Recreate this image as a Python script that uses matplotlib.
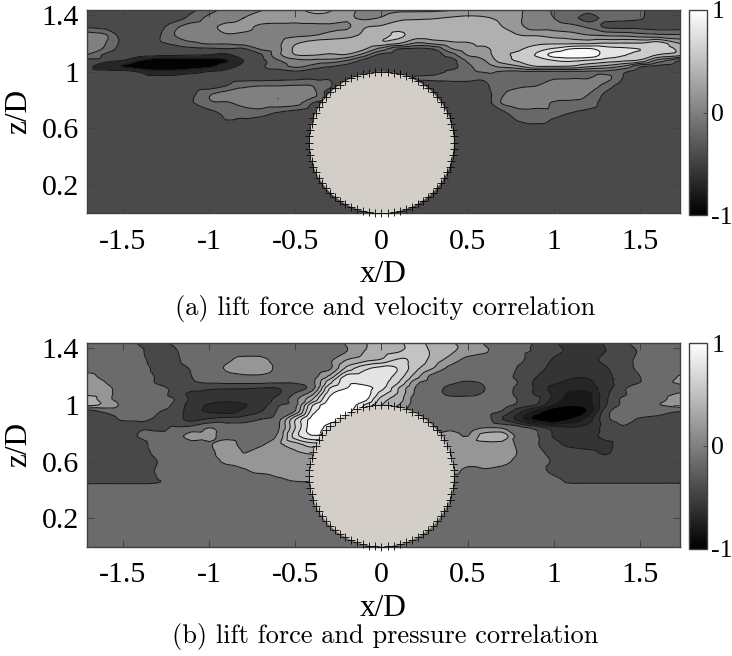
import numpy as np
import matplotlib
matplotlib.use("Agg")
import matplotlib.pyplot as plt
import matplotlib.tri as mtri
from matplotlib.patches import Ellipse
from matplotlib.cm import ScalarMappable
from matplotlib.colors import Normalize

W, H = 732, 656
SERIF = ["Liberation Serif", "DejaVu Serif"]

x_grid = [-1.71, -1.6, -1.5, -1.4, -1.3, -1.2, -1.1, -1.0, -0.9, -0.8, -0.7, -0.6, -0.5, -0.4, -0.3, -0.2, -0.1, 0.0,
          0.1, 0.2, 0.3, 0.4, 0.5, 0.6, 0.7, 0.8, 0.9, 1.0, 1.1, 1.2, 1.3, 1.4, 1.5, 1.6, 1.74]

# values are contour-class positions (class boundaries at .5)
z_lift_velocity = [1.44, 1.38, 1.32, 1.26, 1.2, 1.16, 1.12, 1.08, 1.04, 1.0, 0.96, 0.9, 0.84, 0.78, 0.72, 0.66, 0.6, 0.54, 0.48, 0.4, 0.3, 0.2, 0.1, 0.0]
lift_velocity = [
 [3,3,3,3,3,3,3.3,4,4.8,5,5.4,5.8,6.3,6.7,6.6,5.9,5.2,5.0,5.2,5.2,5.2,5.35,5.8,5.9,6.0,5.6,5,4.4,4.2,4,4,4,3.7,3,3],
 [3,3,3,3,3,3,3.8,4.8,5,5.5,6,6,6,6.2,6.2,5.7,5.3,5.6,6.2,6.3,6.4,6.6,6.7,6.6,6.2,5.6,5,4.5,3.9,3,3.8,3.8,3.6,3,3],
 [3.3,3.1,3,3,3,4.2,5,5.2,5.8,5.8,5.3,5.2,5.2,5.2,5.3,5.3,6.4,6.6,7,7.2,7.2,7.2,7.2,7.2,6.5,5.7,5,5,4.8,4.3,3.3,3.2,3.2,3,3],
 [5,4.6,3,3,3.3,4.5,5,5,5.4,5.3,5.1,5.1,5.3,5.4,5.8,6.1,6.7,7.1,7.7,7.1,7.2,7.2,7.2,7.2,7.1,6.5,6.4,6.1,5.9,5.5,5.3,5.2,4.9,4.7,4.6],
 [5,4.5,3.2,3,3.3,3.7,4.3,4.6,4.6,4.8,5.1,5.3,6.4,7,7.1,7.2,7.3,7.2,6.5,5.3,5.7,6.2,6.4,6.8,7.2,7.3,7.3,7.4,7.4,7.4,7.6,7.6,7.6,8.1,6.4],
 [5,4.3,3,3,3,3,3.2,3.3,3.4,3.3,4.6,5.2,6.7,7.2,7.2,7.1,6.6,5,3.4,3.2,3.5,5.3,6.1,6.2,7.3,7.4,8.1,8.7,9.6,9.7,9,8.7,8.5,8.2,7.2],
 [4.5,3.3,3,3.1,3,2.9,2.7,2.5,2.3,3.2,3.4,5.2,6.5,6.6,6.3,6.4,5,3.2,3,3,3,4,5.6,6,7.3,7.7,8.6,10,10.3,10.2,9.1,8.6,8.1,7.5,6.8],
 [3.2,3,2.5,0.5,-1,-1,-1,-0.5,0.3,2.5,3.2,4.4,5.2,5.3,5.2,4.5,3.2,3,3,3,3,3,4.7,5.5,7,7.7,8,8.5,8.7,8.4,8,7.7,7.3,5.2,3.4],
 [3,1.5,0.3,-1,-1,-1,-0.8,0,1.5,3,3.4,3.9,4.8,4.2,3.6,3.2,3,3,3,3,3,3,4.3,5,5.8,6.5,7.6,7.6,7.5,6.8,6.3,5.5,3.8,3.3,3],
 [3,3,3.2,2.3,1.2,1.2,2,2.6,3,3,3.3,3.2,3.4,3,3,3,3,3,3,3,3,3.7,4.3,4.6,4.4,4.3,4.3,4.3,4.3,4.3,4.3,3.7,3,3,3],
 [3,3,3,3,3,3,3,3,3,3,3,3.1,3.2,3.3,3.4,3,3,3,3,3.6,3.7,3.9,4,3.8,4.4,4.4,4.4,4.4,4.4,4.4,4.9,3.5,3,3,3],
 [3,3,3,3,3,3,3,3,3.5,4.3,4.5,4.5,4.6,4.5,3.6,3,3,3,3,3,3,3,3,3.3,4.3,4.4,4.5,5,5.2,5.1,4.1,3,3,3,3],
 [3,3,3,3,3,3,3.3,4.4,5,5,5.2,5.4,5.3,4.9,3,3,3,3,3,3,3,3,3,3,4.4,5,5.1,5.2,4.9,4.5,3.3,3,3,3,3],
 [3,3,3,3,3,3,3.4,4.3,4.4,4.8,5.1,5.3,5,3.5,3,3,3,3,3,3,3,3,3,3,4.6,5.2,5,4.4,4.3,4.1,3,3,3,3,3],
 [3,3,3,3,3,3,3,3.3,3.8,4.1,4.2,3.6,3.3,3,3,3,3,3,3,3,3,3,3,3,3.4,4.2,4.2,4.2,3.6,3.3,3,3,3,3,3],
 [3,3,3,3,3,3,3,3,3.5,3.4,3.2,3,3,3,3,3,3,3,3,3,3,3,3,3,3,3.6,3.9,3.4,3,3,3,3,3,3,3],
 [3]*35, [3]*35, [3]*35, [3]*35, [3]*35, [3]*35, [3]*35, [3]*35,
]

z_lift_pressure = [1.44, 1.38, 1.32, 1.26, 1.2, 1.16, 1.12, 1.08, 1.04, 1.0, 0.96, 0.9, 0.84, 0.78, 0.72, 0.66, 0.6, 0.54, 0.48, 0.45, 0.44, 0.42, 0.38, 0.3, 0.2, 0.1, 0.0]
lift_pressure = [
 [5,5,5,4.4,4.3,4.6,5,5,5,5,5,5,5,5,5.2,5.6,6.4,7.2,7.4,7.7,7.2,6.6,6.2,5.4,5,4.8,4.4,3.6,3.4,3.3,3.6,4.3,4.9,5,5],
 [5,5,5,4.6,4.2,4.4,5,5,5,5,5,5,5,5,5.2,5.5,6.5,7,7.4,8.1,7.3,6.7,6,5.6,5,4.6,4.4,3.7,3.4,3.3,3.5,4,4.6,5,5],
 [5,5,5,4.7,4.2,4.3,5,5,5.3,5.8,5.8,5.1,5.1,5.1,5.3,6.5,7.1,7.6,8.6,8.2,7.1,6.1,5.2,5,5,4.6,4.2,3.4,3.3,3.2,3.8,4.2,4.7,5,5],
 [5,5,5,5,4.2,4.1,4.6,5,5.6,6,6,5.3,5.1,5.1,5.3,7.8,9.2,9.8,9.4,7.8,6.5,5.2,5,5,5,4.4,4,3.1,3,3,3.4,4.1,4.7,5,5],
 [5.9,5.2,5,5,4.4,4.1,4.5,5,5.2,5.3,5.3,5,5,5.1,6.8,10,10,10,9,6.9,5.1,5,5,5,4.9,4.2,3.5,3,2.6,2.6,3.2,4,4.5,5,5.6],
 [6,5.5,5,5,4.4,4.1,4.4,4.6,4.7,4.7,4.7,4.6,4.6,5.2,8.2,10.2,10.1,9.9,8.5,5.8,5,4.7,4.4,4.6,5,4.4,3.3,2.7,2.3,2.3,3.2,3.9,4.5,5,5.8],
 [6,5.8,5,5,4.8,4.3,4,3.7,3.6,3.6,3.5,3.5,4,5.1,9.5,10.5,11,9.8,7.5,5.4,5,4.2,4.2,4.5,4.9,4.2,3.3,2.2,2,2,3,4.3,5,5,5],
 [6.2,5.9,5,5,4.9,4.2,3.2,3.1,3.1,3.1,3.1,3.4,4.6,6.2,10.2,11,11.2,9,7.3,5.3,5,4.2,4.2,4.6,4.9,4.2,3.3,2.3,1.2,1.2,3.2,4.3,5.2,5,5.7],
 [7.2,5.9,5,5,4.9,4.5,3.3,3,2.8,2.9,3.1,3.8,5.2,7.5,10.8,11.3,10.9,8,7,5,5,4.9,5,5,5,4.4,3.8,2.1,1.1,1.2,3.3,4.7,5,5,6.4],
 [7,6.2,5.3,5,5,4.3,3,2.4,2.1,2.4,3,4.4,5.2,9.4,11.3,11.3,9.5,7.5,6.5,5,5,5,5,5,4.9,4.2,3.4,1.4,0.6,1,3.4,4.7,5,5.4,6.2],
 [4.3,4.8,5,5,4.6,4.1,3,2.3,2,2.7,3.4,4.6,5.5,10,11,11,9,7,6,5,5,5,5,5,4.5,2.9,1.4,-0.5,-1,0.6,4,5,5,5,4.6],
 [4,4.1,4.6,4.6,4.4,4,3.2,3.6,3.9,4,4.5,5.1,8.4,11,11,10,8,6,5,5,5,5,5,5,3.5,2,0,-1,0.5,2,4.2,4.8,4.4,4.2,4.2],
 [4,4,4,4.4,4.2,4.6,4.8,5.5,5,5,5,5.3,8.5,11,10,9,7,6,5,5,5,5.3,5,5.5,5.4,4.9,4.1,3,2.6,3,3.8,4.4,4,4,4],
 [4,4,4,4.6,5,5,6,5.7,5.2,5,5,5.7,9,10.4,10,8,7,6,6,6,5.8,5.9,5.5,7,7.2,5,4.6,3.4,3,3,3.9,4,4,4,4],
 [4,4,4,4.1,5,5,5,5.4,6,5.2,5.4,6.2,7,8,8,7,6,6,6,6,6,6,6,6.1,6,5.3,4.6,3.8,3.3,3.1,3.2,4,4,4,4],
 [4,4,4,4,4.8,5,5,5.2,6,5.5,6,6.2,6.3,6.6,6,6,6,6,6,6,6,5.6,6,6,6,5.4,4.8,4.2,4,3.8,3.4,4,4,4,4],
 [4,4,4,4,4.5,5,5,5,5.7,5.9,6,6,6,6,6,6,6,6,6,6,6,6,5.9,6,5.8,5.2,4.9,4.4,4.1,4,4,4,4,4,4],
 [4,4,4,4,4.6,5,5,5,5,5.4,5.8,6,6,6,6,6,6,6,6,6,6,6,5.2,5.4,5.2,5,4.9,4.2,4,4,4,4,4,4,4],
 [4,4,4,4,4.5,5,5,5,5,5,5,5.4,5.7,5.8,5.8,5.8,5,5,5,5,5,5,5,5,5,5,5,4.7,4.2,4,4,4,4,4,4],
 [4,4,4,4,4.5,5,5,5,5,5,5,5.1,5.3,5.3,5,5,5,5,5,5,5,5,5,5,5,5,5,4.9,4.4,4.4,4.4,4.4,4.4,4.4,4.4],
 [5]*35, [5]*35, [5]*35, [5]*35, [5]*35, [5]*35, [5]*35,
]

levels_velocity = [-3, 0.5, 2.5, 3.5, 4.5, 5.5, 6.5, 7.5, 8.5, 9.5, 14]
grays_velocity = [3, 38, 74, 104, 128, 152, 176, 204, 229, 250]
levels_pressure = [-3, 0.5, 1.5, 2.5, 3.5, 4.5, 5.5, 6.5, 7.5, 8.5, 9.5, 10.5, 14]
grays_pressure = [0, 25, 38, 52, 72, 107, 150, 175, 195, 210, 228, 255]

x_ticks = [-1.5, -1, -0.5, 0, 0.5, 1, 1.5]
x_tick_labels = ["-1.5", "-1", "-0.5", "0", "0.5", "1", "1.5"]
z_ticks = [0.2, 0.6, 1, 1.4]
z_tick_labels = ["0.2", "0.6", "1", "1.4"]
cbar_ticks = [-1, 0, 1]
cbar_labels = ["-1", "0", "1"]
captions = ["(a) lift force and velocity correlation", "(b) lift force and pressure correlation"]
cylinder_angles = np.arange(0, 360, 5)

FRAME = "#404040"
CYL = "#d3cfc8"
TICK_FS = 21.5


def px_axes(fig, left, top, right, bottom):
    return fig.add_axes([left / W, 1 - bottom / H, (right - left) / W, (bottom - top) / H])


def panel(fig, top, bottom, z, values, levels, grays, caption, cap_y, xlab_y):
    ax = px_axes(fig, 87.3, top, 680, bottom)
    colors = [(g / 255, g / 255, g / 255) for g in grays]
    data = np.array(values, dtype=float)
    X, Z = np.meshgrid(x_grid, z)
    # smooth the drawn contours with matplotlib's own triangular refiner
    tri = mtri.Triangulation(X.ravel(), Z.ravel())
    interp = mtri.CubicTriInterpolator(tri, data.ravel(), kind="geom")
    tri_fine, data_fine = mtri.UniformTriRefiner(tri).refine_field(data.ravel(), triinterpolator=interp, subdiv=2)
    data_fine = np.clip(np.ma.filled(data_fine, 3), -2.5, 13)
    ax.tricontourf(tri_fine, data_fine, levels=levels, colors=colors)
    ax.tricontour(tri_fine, data_fine, levels=levels[1:-1], colors="#181818", linewidths=0.75)
    ax.set_xlim(-1.706, 1.731)
    ax.set_ylim(0.0, 1.44)
    ax.add_patch(Ellipse((0, 0.5), 0.84, 1.0, facecolor=CYL, edgecolor="none", zorder=3))
    th = np.deg2rad(cylinder_angles)
    ax.plot(0.42 * np.cos(th), 0.5 + 0.5 * np.sin(th), ls="none", marker="+", ms=6, mew=0.6,
            color="black", zorder=4, clip_on=False)
    ax.set_xticks(x_ticks, x_tick_labels)
    ax.set_yticks(z_ticks, z_tick_labels)
    ax.tick_params(direction="in", top=True, right=True, length=5, width=0.7, color=FRAME,
                   labelsize=TICK_FS)
    ax.tick_params(axis="x", pad=11)
    ax.tick_params(axis="y", pad=6)
    for lab in ax.get_xticklabels() + ax.get_yticklabels():
        lab.set_family(SERIF)
    for s in ax.spines.values():
        s.set_color(FRAME)
        s.set_linewidth(1.0)
    ax.set_ylabel("z/D", fontsize=22.5, family=SERIF)
    ax.yaxis.set_label_coords(-0.0916, 0.5)
    fig.text(383 / W, 1 - xlab_y / H, "x/D", fontsize=22.5, family=SERIF, ha="center", va="center")
    fig.text(385 / W, 1 - cap_y / H, caption, fontsize=19, family="cmr10", ha="center", va="center")

    cax = px_axes(fig, 688.5, top + 0.5, 706.5, bottom + 2)
    cb = fig.colorbar(ScalarMappable(Normalize(-1, 1), "gray"), cax=cax)
    cb.set_ticks(cbar_ticks, labels=cbar_labels)
    cb.ax.tick_params(direction="in", length=3, width=0.7, color=FRAME, labelsize=18.5, pad=3.5)
    for lab in cb.ax.get_yticklabels():
        lab.set_family(SERIF)
    cb.outline.set_edgecolor(FRAME)
    cb.outline.set_linewidth(1.0)
    return ax


fig = plt.figure(figsize=(W / 100, H / 100), dpi=100, facecolor="white")
panel(fig, 9.5, 213.3, z_lift_velocity, lift_velocity, levels_velocity, grays_velocity, captions[0], 308, 275)
panel(fig, 342.7, 546.7, z_lift_pressure, lift_pressure, levels_pressure, grays_pressure, captions[1], 636, 609)
fig.savefig("out.png", dpi=100)
